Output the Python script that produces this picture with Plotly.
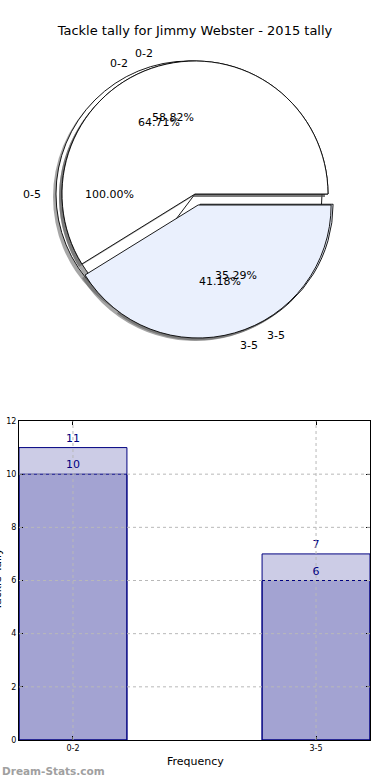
import math
import plotly.graph_objects as go

W, H = 390, 780

chart_title = "Tackle tally for Jimmy Webster - 2015 tally"

# pie data (three overlaid pies)
pie_all_labels = ["0-5"]
pie_all_values = [17]

pie_b_labels = ["0-2", "3-5"]
pie_b_values = [11, 6]

pie_c_labels = ["0-2", "3-5"]
pie_c_values = [10, 7]

# bar data
bar_categories = ["0-2", "3-5"]
bar_total = [11, 7]
bar_part = [10, 6]
y_tick_values = [0, 2, 4, 6, 8, 10, 12]

WHITE = "#ffffff"
LIGHT_BLUE = "#eaf0fd"
SHADOW = "rgba(77,77,77,0.5)"

R = 133.0
CX, CY = 195.0, 194.0
PULL = 0.086


def dom(cx, cy, half):
    return dict(x=[(cx - half) / W, (cx + half) / W],
                y=[1 - (cy + half) / H, 1 - (cy - half) / H])


fig = go.Figure()


def add_pie(labels, values, colors, pulls, cx, cy, shadow=True):
    # plotly lays slices out so that, reversed, the first wedge runs
    # counterclockwise from 3 o'clock (matplotlib's default layout)
    half = R * (1 + max(pulls))
    common = dict(labels=labels[::-1], values=values[::-1], sort=False,
                  direction="counterclockwise", rotation=90, textinfo="none",
                  hoverinfo="skip", showlegend=False, pull=pulls[::-1])
    if shadow:
        fig.add_trace(go.Pie(domain=dom(cx - 3, cy + 3, half),
                             marker=dict(colors=[SHADOW] * len(values), line=dict(width=0)),
                             **common))
    fig.add_trace(go.Pie(domain=dom(cx, cy, half),
                         marker=dict(colors=colors[::-1], line=dict(color="black", width=0.9)),
                         **common))


def pie_texts(labels, values, pulls, cx, cy):
    anns = []
    total = float(sum(values))
    start = 0.0
    for lab, v, p in zip(labels, values, pulls):
        frac = v / total
        mid = math.radians(start + frac * 180.0)
        start += frac * 360.0
        dx, dy = math.cos(mid), -math.sin(mid)
        ox, oy = cx + p * R * dx, cy + p * R * dy
        lx, ly = ox + 1.1 * R * dx, oy + 1.1 * R * dy
        px, py = ox + 0.6 * R * dx, oy + 0.6 * R * dy
        anns.append(dict(x=lx / W, y=1 - ly / H, xref="paper", yref="paper", text=lab,
                         showarrow=False, xanchor="left" if dx > 1e-9 else "right",
                         yanchor="middle", font=dict(size=11, color="black")))
        anns.append(dict(x=px / W, y=1 - py / H, xref="paper", yref="paper",
                         text=f"{frac * 100:.2f}%", showarrow=False, xanchor="center",
                         yanchor="middle", font=dict(size=11, color="black")))
    return anns


annotations = []

# 100% pie (shifted slightly left, like an exploded single wedge)
add_pie(pie_all_labels, pie_all_values, [WHITE], [0], CX - 6, CY)
annotations += pie_texts(pie_all_labels, pie_all_values, [0], CX - 6, CY)

add_pie(pie_b_labels, pie_b_values, [WHITE, LIGHT_BLUE], [0, PULL], CX, CY)
annotations += pie_texts(pie_b_labels, pie_b_values, [0, PULL], CX, CY)

add_pie(pie_c_labels, pie_c_values, [WHITE, LIGHT_BLUE], [0, PULL], CX, CY)
annotations += pie_texts(pie_c_labels, pie_c_values, [0, PULL], CX, CY)

# bars
xpos = list(range(len(bar_categories)))
for vals in (bar_total, bar_part):
    fig.add_trace(go.Bar(
        x=xpos, y=vals, width=0.444, xaxis="x", yaxis="y",
        marker=dict(color="rgba(0,0,128,0.2)", line=dict(color="#000080", width=1)),
        text=[str(v) for v in vals], textposition="outside",
        textfont=dict(color="#000080", size=11),
        outsidetextfont=dict(color="#000080", size=11),
        hoverinfo="skip", showlegend=False, cliponaxis=False,
    ))

shapes = []
for yv in y_tick_values[1:-1]:
    shapes.append(dict(type="line", xref="x domain", yref="y", x0=0, x1=1, y0=yv, y1=yv,
                       line=dict(color="#b8b8b8", width=1, dash="dot"), layer="above"))
for xv in xpos:
    shapes.append(dict(type="line", xref="x", yref="y domain", x0=xv, x1=xv, y0=0, y1=1,
                       line=dict(color="#b8b8b8", width=1, dash="dot"), layer="above"))

annotations.append(dict(x=195 / W, y=1 - 761 / H, xref="paper", yref="paper", text="Frequency",
                        showarrow=False, font=dict(size=11, color="black"),
                        xanchor="center", yanchor="middle"))
annotations.append(dict(x=-3 / W, y=1 - 580 / H, xref="paper", yref="paper", text="Tackle Tally",
                        textangle=-90, showarrow=False, font=dict(size=11, color="black"),
                        xanchor="center", yanchor="middle"))
annotations.append(dict(x=0, y=1 - 771 / H, xref="paper", yref="paper", text="Dream-Stats.com",
                        showarrow=False, font=dict(size=10.5, color="#a0a0a0", weight="bold"),
                        xanchor="left", yanchor="middle"))

fig.update_layout(
    width=W, height=H,
    margin=dict(l=0, r=0, t=0, b=0),
    paper_bgcolor="white", plot_bgcolor="white",
    font=dict(family="DejaVu Sans", color="black"),
    title=dict(text=chart_title, x=0.5, xanchor="center", y=1 - 30 / H, yanchor="middle",
               font=dict(size=13, color="black")),
    barmode="overlay",
    xaxis=dict(domain=[19 / W, 370 / W], range=[-0.222, 1.222], tickvals=xpos,
               ticktext=bar_categories, ticks="inside", ticklen=4, tickcolor="black",
               showline=True, linecolor="black", linewidth=1, mirror="ticks",
               showgrid=False, zeroline=False, tickfont=dict(size=8), automargin=False),
    yaxis=dict(domain=[1 - 740 / H, 1 - 421 / H], range=[0, 12], tickvals=y_tick_values,
               ticks="inside", ticklen=4, tickcolor="black",
               showline=True, linecolor="black", linewidth=1, mirror="ticks",
               showgrid=False, zeroline=False, tickfont=dict(size=8), automargin=False),
    shapes=shapes,
    annotations=annotations,
)

fig.write_html("out.html", config={"displayModeBar": False},
               post_script="document.body.style.margin='0';")
